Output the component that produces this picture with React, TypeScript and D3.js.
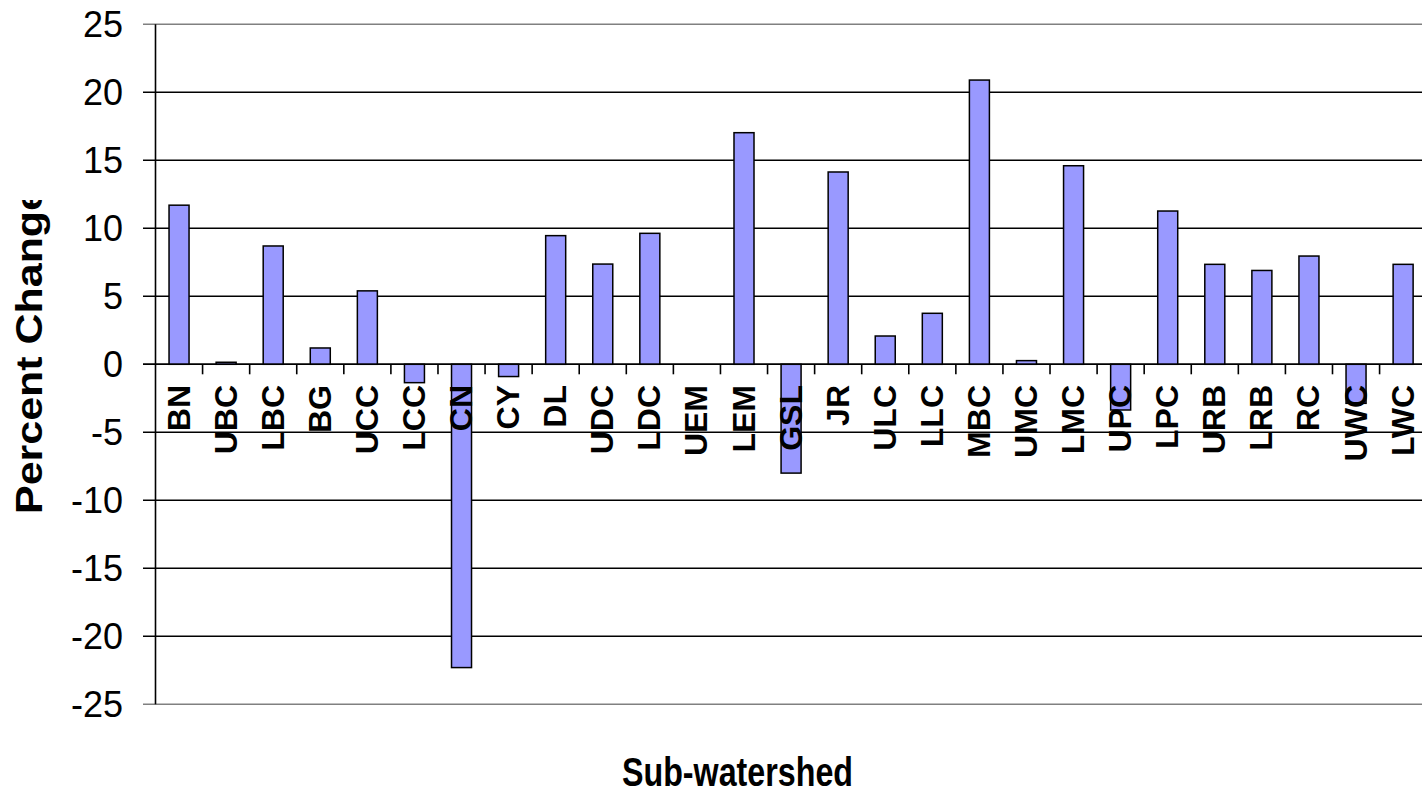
import React from "react";
import * as d3 from "d3";

const categories = ["BN","UBC","LBC","BG","UCC","LCC","CN","CY","DL","UDC","LDC","UEM","LEM","GSL","JR","ULC","LLC","MBC","UMC","LMC","UPC","LPC","URB","LRB","RC","UWC","LWC"];
const values = [11.7,0.15,8.7,1.2,5.4,-1.35,-22.3,-0.9,9.46,7.37,9.63,0,17.03,-8.0,14.14,2.08,3.75,20.9,0.27,14.6,-3.36,11.27,7.35,6.9,7.96,-2.87,7.35];
const yTicks = [-25,-20,-15,-10,-5,0,5,10,15,20,25];
const yTitle = "Percent Change";
const xTitle = "Sub-watershed";

const W = 1422, H = 792;
const left = 155.5, step = 47.08;
const right = left + step * categories.length;

export default function App() {
  const x = d3.scaleBand<string>().domain(categories).range([left, right]).paddingInner(0.575).paddingOuter(0.2875);
  const y = d3.scaleLinear().domain([-25, 25]).range([704.3, 24.3]);
  const font = "'Liberation Sans', Arial, sans-serif";
  const y0 = y(0);
  return (
    <svg width={W} height={H} style={{ position: "absolute", left: 0, top: 0, background: "#fff" }}>
      <defs>
        <clipPath id="ytclip"><rect x={0} y={200} width={80} height={600} /></clipPath>
      </defs>
      {yTicks.map((t) => (
        <line key={"g" + t} x1={143} x2={right} y1={y(t)} y2={y(t)}
          stroke={Math.abs(t) === 25 ? "#808080" : "#000"} strokeWidth={1.6} />
      ))}
      {categories.map((c, i) => {
        const v = values[i];
        if (v === 0) return null;
        const top = v >= 0 ? y(v) : y0;
        const h = Math.abs(y(v) - y0);
        return <rect key={c} x={x(c)} y={top} width={x.bandwidth()} height={h} fill="#9999FF" stroke="#000" strokeWidth={1.5} />;
      })}
      <line x1={143} x2={right} y1={y0} y2={y0} stroke="#000" strokeWidth={1.6} />
      <line x1={left} x2={left} y1={y(25)} y2={y(-25)} stroke="#000" strokeWidth={1.6} />
      {categories.slice(1).map((c, i) => {
        const bx = left + step * (i + 1);
        return <line key={"t" + c} x1={bx} x2={bx} y1={y0} y2={y0 + 10} stroke="#000" strokeWidth={1.6} />;
      })}
      {yTicks.map((t) => (
        <text key={"l" + t} x={123} y={y(t)} dy="0.36em" textAnchor="end" fontFamily={font} fontSize={36} fill="#000">{t}</text>
      ))}
      {categories.map((c) => {
        const cx = (x(c) as number) + x.bandwidth() / 2 - 1;
        return (
          <text key={"x" + c} transform={`translate(${cx},385) rotate(-90)`} textAnchor="end" dy="0.36em"
            fontFamily={font} fontSize={32} fontWeight="bold" fill="#000">{c}</text>
        );
      })}
      <g clipPath="url(#ytclip)">
        <text transform="translate(42,514) rotate(-90)" textAnchor="start" fontFamily={font} fontSize={37}
          fontWeight="bold" textLength={327} lengthAdjust="spacingAndGlyphs" fill="#000">{yTitle}</text>
      </g>
      <text x={622} y={786} fontFamily={font} fontSize={40} fontWeight="bold" textLength={231}
        lengthAdjust="spacingAndGlyphs" fill="#000">{xTitle}</text>
    </svg>
  );
}
